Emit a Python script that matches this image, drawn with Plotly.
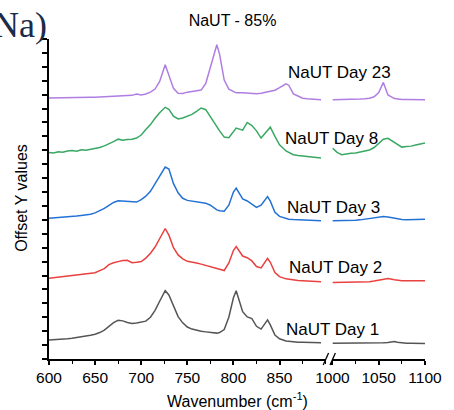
import plotly.graph_objects as go

# Sampling positions (cm^-1) for the two segments of the broken axis
wn_low = [600, 605, 610, 615, 620, 625, 630, 635, 640, 645,
          650, 655, 660, 665, 670, 675, 680, 685, 690, 695,
          700, 705, 710, 715, 720, 726, 730, 735, 740, 745,
          750, 755, 760, 765, 770, 775, 782, 785, 790, 795,
          800, 803, 810, 815, 820, 825, 830, 837, 840, 845,
          850, 857, 860, 865, 870, 875, 880, 885, 890, 895]
wn_high = [1000, 1005, 1010, 1015, 1020, 1025, 1030, 1035, 1040, 1045,
           1050, 1055, 1060, 1067, 1070, 1075, 1080, 1085, 1090, 1095, 1100]

series_names = ["NaUT Day 1", "NaUT Day 2", "NaUT Day 3", "NaUT Day 8", "NaUT Day 23"]
series_colors = ["#555555", "#E8413F", "#2372D4", "#38A862", "#B07DE2"]

# Offset spectra, low-wavenumber segment
day1_low = [1.37, 1.38, 1.40, 1.42, 1.45, 1.49, 1.53, 1.57, 1.62, 1.70,
            1.78, 1.90, 2.08, 2.38, 2.62, 2.78, 2.74, 2.62, 2.55, 2.58,
            2.64, 2.72, 3.00, 3.50, 4.15, 4.91, 4.60, 3.80, 3.05, 2.60,
            2.30, 2.15, 2.06, 1.99, 1.95, 1.90, 1.86, 1.90, 2.12, 3.00,
            4.40, 4.91, 3.40, 3.02, 2.90, 2.35, 2.15, 2.81, 2.45, 1.72,
            1.45, 1.30, 1.27, 1.24, 1.21, 1.20, 1.19, 1.18, 1.17, 1.17]
day2_low = [5.80, 5.84, 5.87, 5.90, 5.94, 5.97, 6.00, 6.05, 6.08, 6.12,
            6.20, 6.35, 6.50, 6.78, 6.92, 7.00, 7.08, 7.10, 6.92, 6.95,
            7.00, 7.25, 7.60, 8.05, 8.65, 9.38, 8.90, 8.00, 7.48, 7.20,
            7.02, 6.98, 6.90, 6.82, 6.72, 6.62, 6.50, 6.45, 6.36, 6.90,
            7.80, 8.08, 7.40, 7.28, 7.05, 6.65, 6.55, 7.24, 6.95, 6.22,
            5.92, 5.76, 5.72, 5.68, 5.64, 5.62, 5.60, 5.58, 5.57, 5.56]
day3_low = [10.12, 10.14, 10.16, 10.18, 10.21, 10.24, 10.28, 10.32, 10.36, 10.40,
            10.50, 10.64, 10.82, 11.05, 11.25, 11.37, 11.35, 11.32, 11.28, 11.28,
            11.45, 11.70, 12.05, 12.60, 13.20, 13.80, 13.65, 12.60, 11.95, 11.55,
            11.40, 11.35, 11.33, 11.30, 11.20, 11.05, 10.72, 10.66, 10.62, 11.05,
            12.00, 12.28, 11.50, 11.36, 11.15, 10.90, 11.05, 11.68, 11.35, 10.55,
            10.25, 10.08, 10.05, 10.02, 10.00, 9.98, 9.96, 9.95, 9.94, 9.93]
day8_low = [14.84, 14.80, 14.90, 14.86, 14.95, 14.99, 14.93, 15.04, 15.01, 15.08,
            15.12, 15.20, 15.32, 15.45, 15.62, 15.80, 15.72, 15.78, 15.80, 15.88,
            16.10, 16.50, 16.85, 17.30, 17.70, 18.09, 17.95, 17.45, 17.25, 17.32,
            17.45, 17.58, 17.80, 18.04, 17.92, 17.45, 16.70, 16.40, 15.95, 15.90,
            16.35, 16.60, 16.45, 17.00, 16.78, 16.40, 15.88, 16.45, 16.66, 16.00,
            15.40, 14.95, 14.85, 14.68, 14.62, 14.60, 14.55, 14.52, 14.48, 14.44]
day23_low = [18.76, 18.76, 18.77, 18.77, 18.78, 18.78, 18.79, 18.80, 18.80, 18.81,
             18.82, 18.83, 18.84, 18.85, 18.86, 18.88, 18.90, 18.92, 18.95, 19.04,
             18.98, 19.05, 19.18, 19.40, 19.95, 21.15, 20.45, 19.45, 19.10, 19.08,
             19.18, 19.23, 19.26, 19.33, 19.80, 21.00, 22.59, 21.90, 20.05, 19.40,
             19.20, 19.13, 19.13, 19.10, 19.08, 19.07, 19.10, 19.22, 19.26, 19.32,
             19.50, 19.78, 19.68, 19.05, 18.90, 18.74, 18.70, 18.68, 18.66, 18.64]

# Offset spectra, high-wavenumber segment
day1_high = [1.13, 1.13, 1.12, 1.13, 1.12, 1.13, 1.13, 1.14, 1.14, 1.15,
             1.15, 1.16, 1.18, 1.26, 1.20, 1.15, 1.13, 1.13, 1.12, 1.12, 1.12]
day2_high = [5.49, 5.50, 5.48, 5.50, 5.49, 5.51, 5.52, 5.54, 5.56, 5.60,
             5.66, 5.72, 5.78, 5.70, 5.66, 5.62, 5.62, 5.61, 5.62, 5.63, 5.63]
day3_high = [9.93, 9.93, 9.94, 9.95, 9.96, 9.98, 10.00, 10.04, 10.08, 10.14,
             10.20, 10.24, 10.20, 10.10, 10.05, 10.02, 10.00, 10.00, 10.02, 10.03, 10.05]
day8_high = [15.16, 14.85, 14.68, 14.75, 14.78, 14.80, 14.88, 14.92, 15.02, 15.20,
             15.50, 15.80, 15.86, 15.55, 15.40, 15.23, 15.28, 15.30, 15.38, 15.45, 15.52]
day23_high = [18.63, 18.63, 18.64, 18.64, 18.65, 18.66, 18.68, 18.70, 18.74, 18.85,
              19.15, 19.88, 18.98, 18.72, 18.68, 18.66, 18.65, 18.64, 18.64, 18.63, 18.63]

low_sets = [day1_low, day2_low, day3_low, day8_low, day23_low]
high_sets = [day1_high, day2_high, day3_high, day8_high, day23_high]

# Label anchor points (wavenumber, offset value)
label_x = [854.5, 858.0, 856.3, 853.4, 856.6]
label_y = [2.09, 6.60, 10.91, 15.88, 20.60]

FONT = "Liberation Sans, Arial, sans-serif"

fig = go.Figure()
for name, color, ylo, yhi in zip(series_names, series_colors, low_sets, high_sets):
    fig.add_trace(go.Scatter(x=wn_low, y=ylo, mode="lines", name=name,
                             line=dict(color=color, width=1.5),
                             xaxis="x", yaxis="y", showlegend=False))
    fig.add_trace(go.Scatter(x=wn_high, y=yhi, mode="lines", name=name,
                             line=dict(color=color, width=1.5),
                             xaxis="x2", yaxis="y", showlegend=False))

annotations = []
for name, lx, ly in zip(series_names, label_x, label_y):
    annotations.append(dict(x=lx, y=ly, xref="x", yref="y", text=name,
                            showarrow=False, xanchor="left", yanchor="middle",
                            font=dict(family=FONT, size=17, color="#000000")))

annotations.append(dict(x=0.5, y=-0.128, xref="paper", yref="paper",
                        text="Wavenumber (cm<sup>-1</sup>)", showarrow=False,
                        xanchor="center", yanchor="middle",
                        font=dict(family=FONT, size=16, color="#000000")))
annotations.append(dict(x=-0.075, y=0.503, xref="paper", yref="paper",
                        text="Offset Y values", showarrow=False, textangle=-90,
                        xanchor="center", yanchor="middle",
                        font=dict(family=FONT, size=16, color="#000000")))
annotations.append(dict(x=0.0, y=1.045, xref="paper", yref="paper",
                        text="Na)", showarrow=False,
                        xanchor="right", yanchor="middle",
                        font=dict(family="Liberation Serif, Times New Roman, serif",
                                  size=36, color="#1B2B4B")))

axis_common = dict(showline=True, linecolor="#000000", linewidth=1.5,
                   ticks="outside", ticklen=4, tickwidth=1.5, tickcolor="#000000",
                   showgrid=False, zeroline=False,
                   tickfont=dict(family=FONT, size=15.5, color="#000000"),
                   minor=dict(dtick=25, ticks="outside", ticklen=3,
                              tickwidth=1.2, tickcolor="#000000", showgrid=False))

d1 = 284 / 386
d2 = 291 / 386

# Break marks on the x axis
def px_to_paper(px, py):
    return (px - 49) / 386, (359 - py) / 320

shapes = []
for x0 in (330.5, 337.5):
    a = px_to_paper(x0, 365)
    b = px_to_paper(x0 + 5.5, 353)
    shapes.append(dict(type="line", xref="paper", yref="paper",
                       x0=a[0], y0=a[1], x1=b[0], y1=b[1],
                       line=dict(color="#000000", width=1.3)))

fig.update_layout(
    width=454, height=410,
    margin=dict(l=49, r=19, t=39, b=51),
    paper_bgcolor="#FFFFFF", plot_bgcolor="#FFFFFF",
    title=dict(text="NaUT - 85%", x=232.5 / 454, xref="container",
               y=1 - 20.7 / 410, yref="container",
               xanchor="center", yanchor="middle",
               font=dict(family=FONT, size=16, color="#000000")),
    xaxis=dict(domain=[0, d1], range=[600, 900], anchor="y",
               tickvals=[600, 650, 700, 750, 800, 850], **axis_common),
    xaxis2=dict(domain=[d2, 1], range=[1000, 1100], anchor="y",
                tickvals=[1000, 1050, 1100], **axis_common),
    yaxis=dict(domain=[0, 1], range=[0, 23], dtick=1, showticklabels=False,
               showline=True, linecolor="#000000", linewidth=1.5,
               ticks="outside", ticklen=5, tickwidth=1.5, tickcolor="#000000",
               showgrid=False, zeroline=False),
    annotations=annotations,
    shapes=shapes,
)

fig.write_html("out.html")
